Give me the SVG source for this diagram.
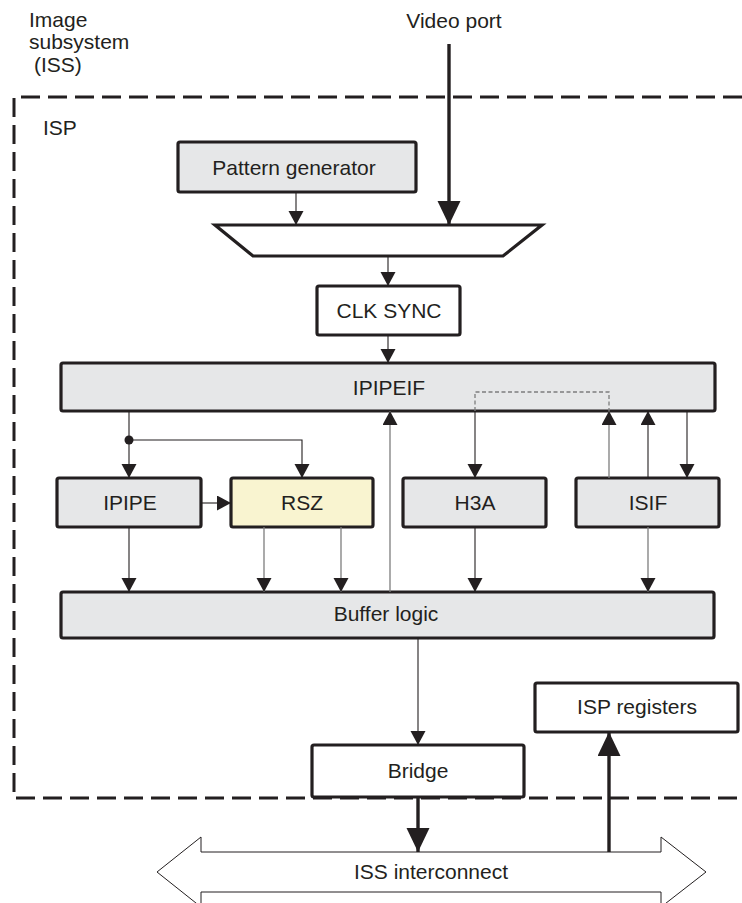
<svg xmlns="http://www.w3.org/2000/svg" width="742" height="903" viewBox="0 0 742 903">
<style>
text{font-family:"Liberation Sans",Arial,sans-serif;font-size:21px;fill:#231f20}
.c{text-anchor:middle}
.box{stroke:#231f20;stroke-width:3.2;fill:#e6e7e8}
.wbox{stroke:#231f20;stroke-width:3.2;fill:#ffffff}
.ln{fill:none;stroke:#231f20;stroke-width:1.1}
.gl{fill:none;stroke:#7d7d7d;stroke-width:1.3}
.th{fill:none;stroke:#231f20;stroke-width:3.4}
.dash{fill:none;stroke:#231f20;stroke-width:3;stroke-dasharray:19 8}
.idash{fill:none;stroke:#7d7d7d;stroke-width:1.3;stroke-dasharray:4 2.5}
</style>
<defs>
<marker id="a" markerUnits="userSpaceOnUse" markerWidth="16" markerHeight="16" refX="14" refY="7.5" orient="auto"><path d="M0,0 L14,7.5 L0,15 z" fill="#231f20"/></marker>
<marker id="b" markerUnits="userSpaceOnUse" markerWidth="26" markerHeight="26" refX="24" refY="11.5" orient="auto"><path d="M0,0 L24,11.5 L0,23 z" fill="#231f20"/></marker>
</defs>
<g id="iss-label"><text x="29" y="27">Image</text><text x="29" y="49">subsystem</text><text x="34" y="72">(ISS)</text></g>
<g id="isp-boundary"><path class="dash" d="M742,97 H14 V798 H742"/><text x="43" y="135">ISP</text></g>
<g id="video-port"><text class="c" x="454" y="28">Video port</text></g>
<g id="iss-interconnect"><polygon points="157,872 201,837 201,852 661,852 661,837 706,872 661,907 661,892 201,892 201,907" fill="#ffffff" stroke="#231f20" stroke-width="1"/><text class="c" x="431" y="879">ISS interconnect</text></g>
<g id="pattern-generator"><rect class="box" x="178" y="142" width="238" height="50" rx="2"/><text class="c" x="294" y="175">Pattern generator</text></g>
<g id="mux"><polygon points="215,225 542,225 503,256 253,256" fill="#ffffff" stroke="#231f20" stroke-width="3.2" stroke-linejoin="miter"/></g>
<g id="clk-sync"><rect class="wbox" x="317" y="286" width="143" height="49" rx="2"/><text class="c" x="389" y="318">CLK SYNC</text></g>
<g id="ipipeif"><rect class="box" x="61" y="363" width="654" height="48" rx="2"/><text class="c" x="389" y="395">IPIPEIF</text></g>
<g id="ipipe"><rect class="box" x="57" y="478" width="144" height="49" rx="2"/><text class="c" x="130" y="510">IPIPE</text></g>
<g id="rsz"><rect class="box" x="231" y="478" width="142" height="49" rx="2" style="fill:#f9f4d0"/><text class="c" x="302" y="510">RSZ</text></g>
<g id="h3a"><rect class="box" x="403" y="478" width="143" height="49" rx="2"/><text class="c" x="475" y="510">H3A</text></g>
<g id="isif"><rect class="box" x="576" y="478" width="143" height="49" rx="2"/><text class="c" x="648" y="510">ISIF</text></g>
<g id="buffer-logic"><rect class="box" x="61" y="592" width="653" height="46" rx="2"/><text class="c" x="386" y="621">Buffer logic</text></g>
<g id="bridge"><rect class="wbox" x="312" y="745" width="212" height="52" rx="2"/><text class="c" x="418" y="778">Bridge</text></g>
<g id="isp-registers"><rect class="wbox" x="535" y="683" width="203" height="49" rx="2"/><text class="c" x="637" y="714">ISP registers</text></g>
<g id="connectors">
<path class="th" d="M449,44 V225" marker-end="url(#b)"/>
<path class="ln" d="M296,192 V225" marker-end="url(#a)"/>
<path class="ln" d="M388,256 V286" marker-end="url(#a)"/>
<path class="ln" d="M388,335 V363" marker-end="url(#a)"/>
<path class="idash" d="M475,411 V392 H609 V411"/>
<path class="ln" d="M129,411 V478" marker-end="url(#a)"/>
<path class="ln" d="M129,440 H302 V478" marker-end="url(#a)"/>
<circle cx="129" cy="440" r="4.5" fill="#231f20"/>
<path class="ln" d="M201,503 H231" marker-end="url(#a)"/>
<path class="ln" d="M129,527 V592" marker-end="url(#a)"/>
<path class="gl" d="M264,527 V592" marker-end="url(#a)"/>
<path class="gl" d="M341,527 V592" marker-end="url(#a)"/>
<path class="gl" d="M390,592 V411" marker-end="url(#a)"/>
<path class="ln" d="M475,411 V478" marker-end="url(#a)"/>
<path class="ln" d="M475,527 V592" marker-end="url(#a)"/>
<path class="gl" d="M609,478 V411" marker-end="url(#a)"/>
<path class="ln" d="M648,478 V411" stroke-width="1.6" marker-end="url(#a)"/>
<path class="ln" d="M687,411 V478" marker-end="url(#a)"/>
<path class="gl" d="M648,527 V592" marker-end="url(#a)"/>
<path class="ln" d="M418,638 V745" marker-end="url(#a)"/>
<path class="th" d="M418,797 V852" marker-end="url(#b)"/>
<path class="th" d="M609,852 V732" marker-end="url(#b)"/>
</g>
</svg>
